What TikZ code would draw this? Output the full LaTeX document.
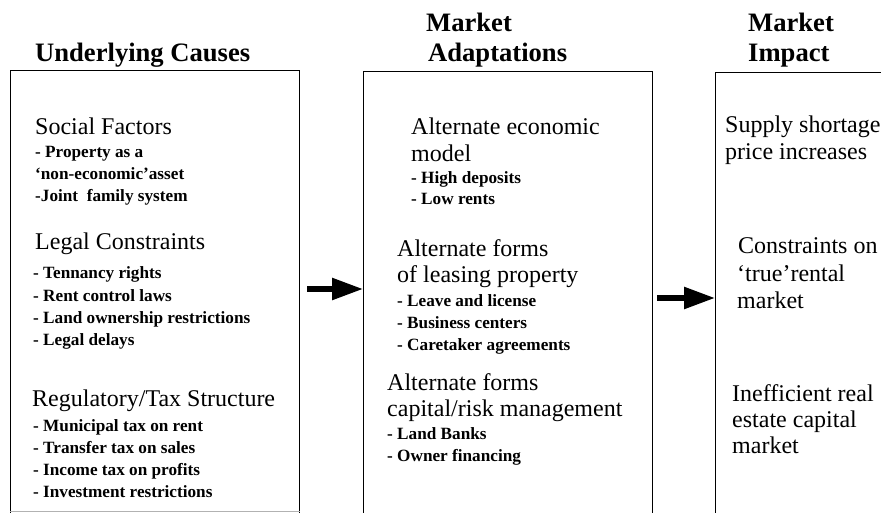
\documentclass[tikz,border=0pt]{standalone}
\usepackage{fontspec}
\setmainfont{Liberation Serif}
\usetikzlibrary{arrows.meta}
\tikzset{
  x=1pt, y=-1pt,
  frame/.style={draw=black, line width=1.3pt, rectangle, inner sep=0pt, anchor=north west},
  ttl/.style={anchor=base west, inner sep=0pt, font=\fontsize{26.6}{30}\selectfont\bfseries},
  hd/.style={anchor=base west, inner sep=0pt, font=\fontsize{24}{28}\selectfont},
  itm/.style={anchor=base west, inner sep=0pt, font=\fontsize{17.2}{21}\selectfont\bfseries},
  bigarrow/.style={line width=5.5pt, -{Triangle[length=31pt,width=21pt]}},
}
\begin{document}
\begin{tikzpicture}
\useasboundingbox (0,0) rectangle (881,513);
\clip (0,0) rectangle (881,513);

% column frames (open at the bottom edge of the page)
\node[frame, minimum width=289pt, minimum height=460pt] (box1) at (10,70) {};
\node[frame, minimum width=289pt, minimum height=460pt] (box2) at (363,71) {};
\node[frame, minimum width=200pt, minimum height=460pt] (box3) at (715,72) {};
\draw[black!30, line width=0.8pt] (box1.west |- 0,511) -- (box1.east |- 0,511);

% column titles
\node[ttl] (t1) at (35,62) {Underlying Causes};
\node[ttl] (t2a) at (426,32) {Market};
\node[ttl] (t2b) at (428,62) {Adaptations};
\node[ttl] (t3a) at (748,32) {Market};
\node[ttl] (t3b) at (748,62) {Impact};

% underlying causes
\node[hd]  (s0) at (35,135) {Social Factors};
\node[itm] (s1) at (35,158) {- Property as a};
\node[itm] (s2) at (35,180) {`non-economic'asset};
\node[itm] (s3) at (35,202) {-Joint\ \ family system};

\node[hd]  (l0) at (35,250) {Legal Constraints};
\node[itm] (l1) at (33,279) {- Tennancy rights};
\node[itm] (l2) at (33,301) {- Rent control laws};
\node[itm] (l3) at (33,323) {- Land ownership restrictions};
\node[itm] (l4) at (33,345) {- Legal delays};

\node[hd]  (r0) at (32,406) {Regulatory/Tax Structure};
\node[itm] (r1) at (33,431) {- Municipal tax on rent};
\node[itm] (r2) at (33,453) {- Transfer tax on sales};
\node[itm] (r3) at (33,475) {- Income tax on profits};
\node[itm] (r4) at (33,497) {- Investment restrictions};

% market adaptations
\node[hd]  (e0) at (411,135) {Alternate economic};
\node[hd]  (e1) at (411,162) {model};
\node[itm] (e2) at (411,184) {- High deposits};
\node[itm] (e3) at (411,205) {- Low rents};

\node[hd]  (f0) at (397,256) {Alternate forms};
\node[hd]  (f1) at (397,283) {of leasing property};
\node[itm] (f2) at (397,306) {- Leave and license};
\node[itm] (f3) at (397,328) {- Business centers};
\node[itm] (f4) at (397,350) {- Caretaker agreements};

\node[hd]  (c0) at (387,390) {Alternate forms};
\node[hd]  (c1) at (387,416) {capital/risk management};
\node[itm] (c2) at (387,439) {- Land Banks};
\node[itm] (c3) at (387,461) {- Owner financing};

% market impact
\node[hd] (m0) at (725,133) {Supply shortage,};
\node[hd] (m1) at (725,160) {price increases};
\node[hd] (n0) at (738,254) {Constraints on};
\node[hd] (n1) at (737,281) {`true'rental};
\node[hd] (n2) at (737,308) {market};
\node[hd] (q0) at (732,401) {Inefficient real};
\node[hd] (q1) at (732,427) {estate capital};
\node[hd] (q2) at (732,453) {market};

% flow arrows between the columns
\coordinate (a1) at (307,289);
\coordinate (a2) at (657,298);
\draw[bigarrow] (a1) -- (a1 -| box2.west);
\draw[bigarrow] (a2) -- (a2 -| box3.west);
\end{tikzpicture}
\end{document}
